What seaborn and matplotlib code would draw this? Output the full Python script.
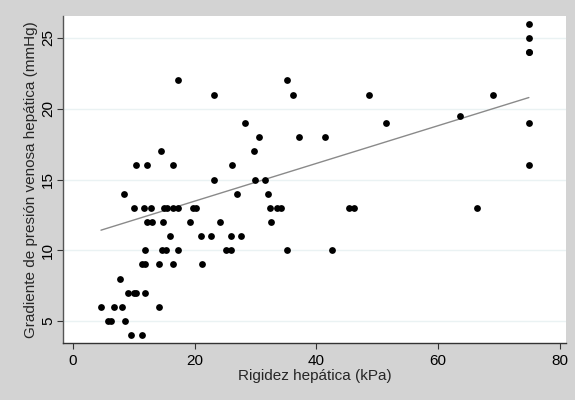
import numpy as np
import pandas as pd
import matplotlib
matplotlib.use("Agg")
import matplotlib.pyplot as plt
import seaborn as sns

# datos (rigidez kPa, gradiente mmHg)
rigidez = [17.2, 23.1, 28.3, 30.6, 14.5, 29.8, 10.4, 12.1, 16.4, 26.2,
           23.2, 29.9, 31.5, 35.1, 36.1, 37.2, 41.4, 48.6, 51.5, 63.6,
           69.0, 75.0, 75.0, 75.0, 75.0, 75.0, 75.0,
           8.3, 26.9, 32.0,
           10.1, 11.7, 12.8, 15.0, 15.5, 16.5, 17.3, 19.8, 20.2, 32.3,
           33.6, 34.2, 45.4, 46.1, 66.4,
           12.2, 13.0, 14.8, 19.3, 24.1, 32.6,
           16.0, 21.0, 22.7, 25.9, 27.6,
           11.8, 14.6, 15.3, 17.2, 25.2, 25.9, 35.1, 42.6,
           11.3, 11.8, 14.2, 16.5, 21.2,
           7.8,
           9.1, 10.1, 10.4, 11.8,
           4.6, 6.8, 8.1, 14.2,
           5.8, 6.2, 8.6,
           9.5, 11.3]
gradiente = [22, 21, 19, 18, 17, 17, 16, 16, 16, 16,
             15, 15, 15, 22, 21, 18, 18, 21, 19, 19.5,
             21, 26, 25, 24, 24, 19, 16,
             14, 14, 14,
             13, 13, 13, 13, 13, 13, 13, 13, 13, 13,
             13, 13, 13, 13, 13,
             12, 12, 12, 12, 12, 12,
             11, 11, 11, 11, 11,
             10, 10, 10, 10, 10, 10, 10, 10,
             9, 9, 9, 9, 9,
             8,
             7, 7, 7, 7,
             6, 6, 6, 6,
             5, 5, 5,
             4, 4]

# recta de ajuste tal como aparece en el gráfico
ajuste_x = [4.6, 74.9]
ajuste_y = [11.42, 20.79]

df = pd.DataFrame({"rigidez": rigidez, "gradiente": gradiente})
df_ajuste = pd.DataFrame({"rigidez": ajuste_x, "gradiente": ajuste_y})

sns.set_style("white")
plt.rcParams['font.family'] = ['Liberation Sans', 'DejaVu Sans']

fig = plt.figure(figsize=(5.75, 4), dpi=100)
fig.patch.set_facecolor("#d3d3d3")
ax = fig.add_axes([63/575, 1-343/400, (566-63)/575, (343-16)/400])
ax.set_facecolor("white")

sns.scatterplot(data=df, x="rigidez", y="gradiente", ax=ax,
                s=24, color="black", linewidth=0, zorder=3)
sns.lineplot(data=df_ajuste, x="rigidez", y="gradiente", ax=ax,
             color="#8a8a8a", lw=1.0, zorder=2)

ax.set_xlim(-1.64, 81.0)
ax.set_ylim(3.45, 26.55)
ax.set_xticks([0, 20, 40, 60, 80])
ax.set_yticks([5, 10, 15, 20, 25])
ax.yaxis.grid(True, color="#eaf2f3", lw=1.0)
ax.set_axisbelow(True)

for s in ["top", "right"]:
    ax.spines[s].set_visible(False)
ax.spines["left"].set_color("#555555")
ax.spines["bottom"].set_color("#333333")
ax.spines["left"].set_linewidth(1.0)
ax.spines["bottom"].set_linewidth(1.0)

ax.tick_params(axis="both", direction="out", length=4.3, width=0.8,
               colors="#333333", labelcolor="black", labelsize=11,
               left=True, bottom=True)
ax.tick_params(axis="y", pad=1.5)
for lab in ax.get_yticklabels():
    lab.set_rotation(90)
    lab.set_va("center")

ax.set_xlabel("Rigidez hepática (kPa)", fontsize=11, labelpad=1)
ax.set_ylabel("Gradiente de presión venosa hepática (mmHg)", fontsize=11, labelpad=2)

fig.savefig("out.png", dpi=100, facecolor=fig.get_facecolor())
